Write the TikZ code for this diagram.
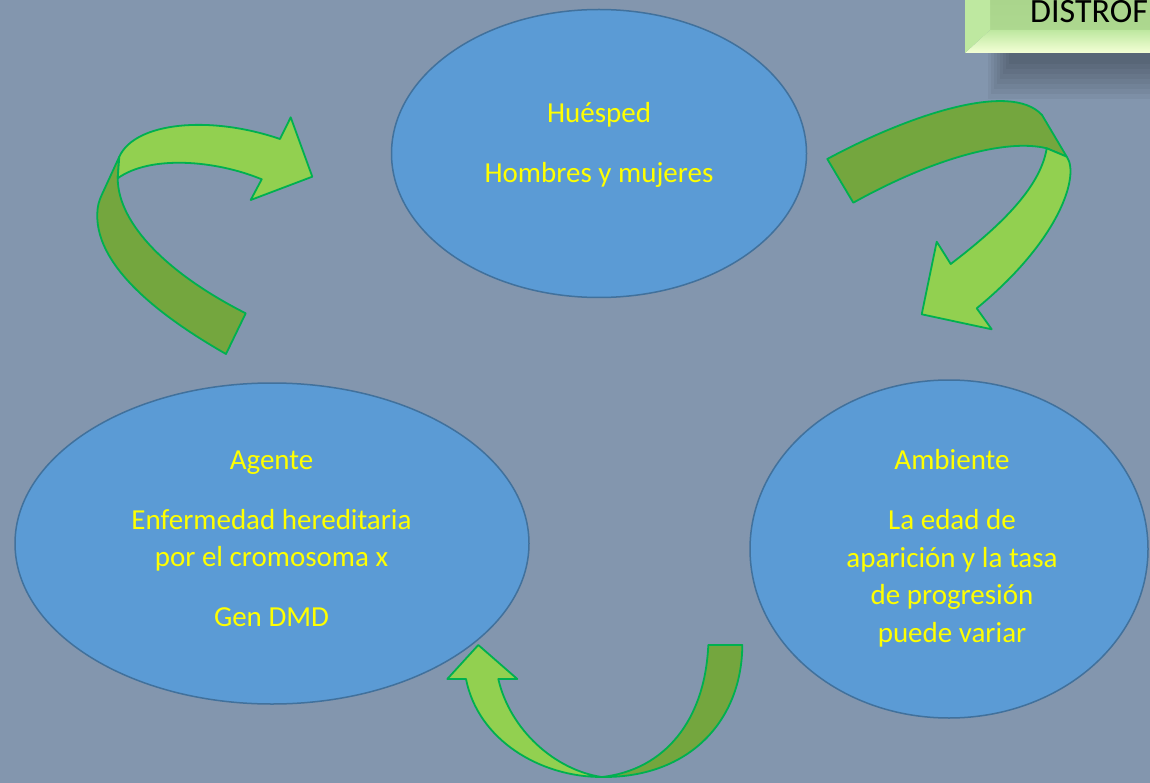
\documentclass[tikz,border=0pt]{standalone}
\usepackage{fontspec}
\setmainfont{Carlito}
\usepackage{tikz}
\usetikzlibrary{shapes.geometric}

\definecolor{fondo}{RGB}{131,150,174}
\definecolor{azul}{RGB}{91,155,213}
\definecolor{azulborde}{RGB}{65,113,156}
\definecolor{amarillo}{RGB}{255,255,0}
\definecolor{verdeclaro}{RGB}{146,208,80}
\definecolor{verdeoscuro}{RGB}{116,166,62}
\definecolor{verdeborde}{RGB}{0,176,80}
\definecolor{cinta}{RGB}{170,213,140}
\definecolor{cintaborde}{RGB}{190,232,160}
\definecolor{cintabajo}{RGB}{244,255,214}

\begin{document}
\begin{tikzpicture}[x=1pt,y=-1pt,
   circulo/.style={ellipse,draw=azulborde,line width=1.5pt,fill=azul,inner sep=0pt},
   texto/.style={text=amarillo,align=center,inner sep=0pt,font=\fontsize{29}{37.5}\selectfont},
   flechaclara/.style={fill=verdeclaro,draw=verdeborde,line width=1.8pt,line join=round},
   flechaoscura/.style={fill=verdeoscuro,draw=verdeborde,line width=1.8pt,line join=round}]
   \useasboundingbox (0,0) rectangle (1150,783);
   \fill[fondo] (0,0) rectangle (1150,783);

   % sombra y cinta del titulo
   \foreach \k in {1,...,8}
      \fill[black,opacity=.045] (985+3*\k,53) rectangle (1151,104-5*\k);
   \shade[top color=cinta,bottom color=cinta!85!cintaborde] (965,-1) rectangle (1151,30);
   \shade[top color=cintaborde,bottom color=cintabajo] (965,53) -- (990,30) -- (1151,30) -- (1151,53) -- cycle;
   \fill[cintaborde] (965,-1) -- (990,-1) -- (990,30) -- (965,53) -- cycle;
   \node[anchor=base west,inner sep=0pt,font=\fontsize{34}{34}\selectfont] (titulo) at (1030,23) {DISTROF};

   \node[circulo,minimum width=415pt,minimum height=288pt] (huesped) at (599,153.5) {};
   \node[circulo,minimum width=514pt,minimum height=321pt] (agente) at (272,543.5) {};
   \node[circulo,minimum width=398pt,minimum height=338pt] (ambiente) at (949,549) {};

   \node[texto] (txt_huesped) at (599,145) {Huésped\\[22.5pt] Hombres y mujeres};
   \node[texto] (txt_agente) at (271.5,539) {Agente\\[22.5pt] Enfermedad hereditaria\\ por el cromosoma x\\[22.5pt] Gen DMD};
   \node[texto] (txt_ambiente) at (952,548.4) {Ambiente\\[22.5pt] La edad de\\ aparición y la tasa\\ de progresión\\ puede variar};

   % agente -> huesped
   \draw[flechaoscura] (119.3,156.7) -- (117.7,178.3) .. controls (118,225) and (170,275) .. (245.7,313.3)
      -- (226,354) .. controls (170,322) and (95,270) .. (97.3,213.3)
      .. controls (97.5,206) and (99,201) .. (101.7,195) -- cycle;
   \draw[flechaclara] (119.3,156.7) .. controls (135,122) and (210,115) .. (280,139) -- (290.7,117.3)
      -- (312.3,176.7) -- (250.7,200) -- (261.7,179.3) .. controls (215,160) and (150,155) .. (117.7,178.3) -- cycle;

   % huesped -> ambiente
   \draw[flechaoscura] (827.3,159) .. controls (905,117) and (1010,80) .. (1042,115) -- (1066.7,156.7)
      -- (1046.7,148.3) .. controls (1005,138) and (930,160) .. (853.3,202.7) -- cycle;
   \draw[flechaclara] (1066.7,156.7) .. controls (1080,175) and (1060,240) .. (976.7,308.3) -- (991.7,329.3)
      -- (921.7,314.3) -- (936.7,241.7) -- (950.7,264) .. controls (995,230) and (1040,190) .. (1046.7,148.3) -- cycle;

   % ambiente -> agente
   \draw[flechaclara] (466,679) .. controls (478,740) and (540,777) .. (601.7,777)
      .. controls (555,770) and (510,730) .. (498.3,679) -- (517.3,679) -- (478.3,645) -- (447.3,679) -- cycle;
   \draw[flechaoscura] (601.7,777) .. controls (665,770) and (705,720) .. (708.3,645) -- (742.3,645)
      .. controls (742,720) and (690,778) .. (601.7,777) -- cycle;
\end{tikzpicture}
\end{document}
